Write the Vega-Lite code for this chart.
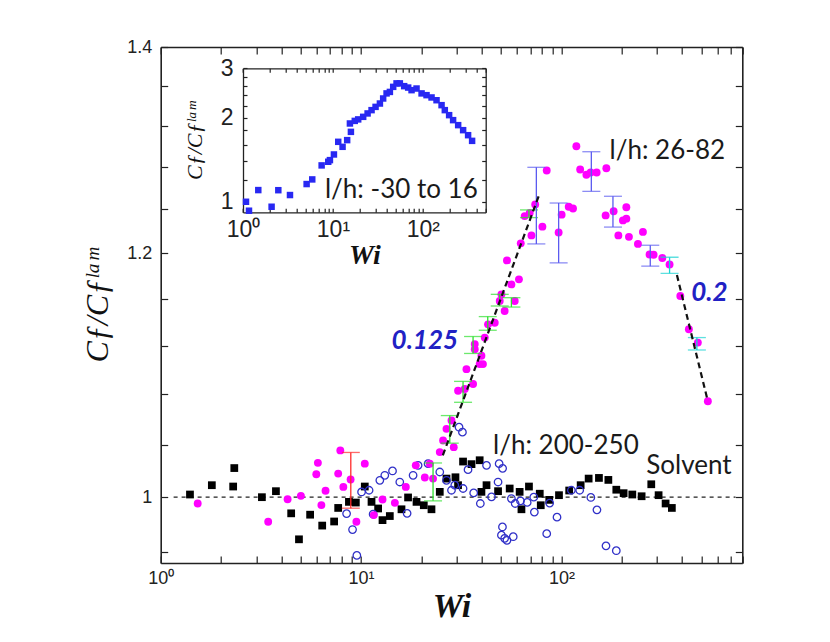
{
  "$schema": "https://vega.github.io/schema/vega-lite/v6.json",
  "width": 581.6,
  "height": 516,
  "autosize": "none",
  "padding": {"left": 160.7, "top": 47, "right": 87.7, "bottom": 79},
  "background": "white",
  "config": {
    "view": {"stroke": null},
    "axis": {
      "grid": false,
      "domainColor": "#222",
      "domainWidth": 1.6,
      "tickColor": "#222",
      "tickWidth": 1.2,
      "labelFont": "Liberation Sans",
      "labelColor": "#222",
      "titleColor": "#111",
      "labelFlush": false,
      "labelOverlap": false,
      "labelBound": false
    }
  },
  "datasets": {
    "solvent": [
      {"wi": 1.40, "cf": 1.002}, {"wi": 1.80, "cf": 1.009}, {"wi": 2.30, "cf": 1.008}, {"wi": 2.33, "cf": 1.022},
      {"wi": 3.20, "cf": 1.000}, {"wi": 3.76, "cf": 1.0045}, {"wi": 4.48, "cf": 0.988}, {"wi": 4.90, "cf": 0.969},
      {"wi": 5.57, "cf": 0.987}, {"wi": 6.40, "cf": 0.979}, {"wi": 7.34, "cf": 0.982}, {"wi": 7.69, "cf": 0.992},
      {"wi": 8.70, "cf": 0.9965}, {"wi": 9.42, "cf": 0.996}, {"wi": 10.44, "cf": 1.008}, {"wi": 11.28, "cf": 0.9965},
      {"wi": 12.17, "cf": 0.9916}, {"wi": 12.8, "cf": 0.983}, {"wi": 13.92, "cf": 0.986}, {"wi": 15.92, "cf": 0.991},
      {"wi": 17.17, "cf": 0.9998}, {"wi": 18.92, "cf": 0.9965}, {"wi": 20.57, "cf": 0.994}, {"wi": 22.47, "cf": 0.991},
      {"wi": 24.72, "cf": 1.004}, {"wi": 26.7, "cf": 1.014}, {"wi": 29.6, "cf": 1.015}, {"wi": 30.5, "cf": 1.009},
      {"wi": 32.3, "cf": 1.027}, {"wi": 35.6, "cf": 1.025}, {"wi": 39.1, "cf": 1.028}, {"wi": 39.9, "cf": 1.004},
      {"wi": 42.3, "cf": 1.009}, {"wi": 48.3, "cf": 1.0045}, {"wi": 55.2, "cf": 1.0065}, {"wi": 61.9, "cf": 1.004},
      {"wi": 63.2, "cf": 0.991}, {"wi": 68.9, "cf": 1.008}, {"wi": 78.0, "cf": 1.0026}, {"wi": 78.9, "cf": 0.994},
      {"wi": 87.0, "cf": 0.998}, {"wi": 97.3, "cf": 1.0015}, {"wi": 109.4, "cf": 1.005}, {"wi": 124.8, "cf": 1.009},
      {"wi": 136.8, "cf": 1.014}, {"wi": 154, "cf": 1.0145}, {"wi": 171.6, "cf": 1.013}, {"wi": 188, "cf": 1.0056},
      {"wi": 204.5, "cf": 1.003}, {"wi": 226, "cf": 1.002}, {"wi": 251.5, "cf": 1.0007}, {"wi": 281, "cf": 1.0097},
      {"wi": 305.7, "cf": 1.0015}, {"wi": 331.3, "cf": 0.9953}, {"wi": 356, "cf": 0.992}
    ],
    "lh26": [
      {"wi": 1.53, "cf": 0.9953}, {"wi": 3.44, "cf": 0.9818}, {"wi": 4.30, "cf": 0.9985}, {"wi": 5.01, "cf": 1.001},
      {"wi": 5.98, "cf": 1.0173}, {"wi": 6.09, "cf": 1.026}, {"wi": 6.34, "cf": 0.9941}, {"wi": 6.65, "cf": 1.0048},
      {"wi": 7.69, "cf": 1.0178}, {"wi": 7.88, "cf": 1.0356}, {"wi": 8.16, "cf": 1.0077}, {"wi": 8.87, "cf": 1.0133},
      {"wi": 9.48, "cf": 0.9818}, {"wi": 10.44, "cf": 1.0254}, {"wi": 11.58, "cf": 0.9867}, {"wi": 12.8, "cf": 0.9983},
      {"wi": 14.75, "cf": 0.9958}, {"wi": 16.73, "cf": 1.0077}, {"wi": 18.76, "cf": 1.0241}, {"wi": 20.81, "cf": 1.0148},
      {"wi": 22.03, "cf": 1.0254}, {"wi": 22.88, "cf": 1.014}, {"wi": 24.72, "cf": 1.0343}, {"wi": 25.68, "cf": 1.0433},
      {"wi": 26.7, "cf": 1.0524}, {"wi": 29.03, "cf": 1.0381}, {"wi": 28.28, "cf": 1.059}, {"wi": 30.5, "cf": 1.0828},
      {"wi": 32.94, "cf": 1.0842}, {"wi": 36.24, "cf": 1.0883}, {"wi": 33.59, "cf": 1.1004}, {"wi": 39.1, "cf": 1.1046},
      {"wi": 40.6, "cf": 1.1046}, {"wi": 39.9, "cf": 1.1115}, {"wi": 36.95, "cf": 1.117}, {"wi": 36.95, "cf": 1.1212},
      {"wi": 41.45, "cf": 1.1267}, {"wi": 43.05, "cf": 1.1379}, {"wi": 46.48, "cf": 1.1393}, {"wi": 52.1, "cf": 1.1493},
      {"wi": 49.24, "cf": 1.1579}, {"wi": 50.2, "cf": 1.1637}, {"wi": 58.5, "cf": 1.1579}, {"wi": 56.3, "cf": 1.1724},
      {"wi": 61.4, "cf": 1.1768}, {"wi": 53.5, "cf": 1.1936}, {"wi": 62.7, "cf": 1.2089}, {"wi": 70.9, "cf": 1.2161},
      {"wi": 80.4, "cf": 1.2241}, {"wi": 65.6, "cf": 1.2338}, {"wi": 69.5, "cf": 1.2368}, {"wi": 74.0, "cf": 1.2446},
      {"wi": 84.5, "cf": 1.2766}, {"wi": 118.8, "cf": 1.2999}, {"wi": 96.9, "cf": 1.2188}, {"wi": 100.3, "cf": 1.2351},
      {"wi": 108.8, "cf": 1.2424}, {"wi": 114.3, "cf": 1.2408}, {"wi": 124.1, "cf": 1.2775}, {"wi": 133.3, "cf": 1.2725},
      {"wi": 140, "cf": 1.2747}, {"wi": 150, "cf": 1.2746}, {"wi": 167.7, "cf": 1.2787}, {"wi": 166.3, "cf": 1.2344},
      {"wi": 182.3, "cf": 1.2383}, {"wi": 211, "cf": 1.242}, {"wi": 202.9, "cf": 1.2298}, {"wi": 211, "cf": 1.2314},
      {"wi": 192.5, "cf": 1.2161}, {"wi": 217.4, "cf": 1.2148}, {"wi": 255.3, "cf": 1.2193}, {"wi": 241.1, "cf": 1.2084},
      {"wi": 275.6, "cf": 1.1989}, {"wi": 288.6, "cf": 1.1987}, {"wi": 319, "cf": 1.1958}, {"wi": 346.8, "cf": 1.19},
      {"wi": 392.3, "cf": 1.1623}, {"wi": 432.9, "cf": 1.1337}, {"wi": 480, "cf": 1.1225}, {"wi": 538.5, "cf": 1.0743}
    ],
    "lh200": [
      {"wi": 8.47, "cf": 0.9878}, {"wi": 9.07, "cf": 0.9761}, {"wi": 9.53, "cf": 0.9574}, {"wi": 10.06, "cf": 1.0039},
      {"wi": 10.97, "cf": 1.0052}, {"wi": 11.49, "cf": 0.9874}, {"wi": 12.41, "cf": 1.0127}, {"wi": 13.14, "cf": 1.0165},
      {"wi": 14.36, "cf": 1.0198}, {"wi": 15.61, "cf": 1.0114}, {"wi": 16.98, "cf": 0.988}, {"wi": 18.19, "cf": 1.0165},
      {"wi": 19.27, "cf": 1.0241}, {"wi": 21.61, "cf": 1.0254}, {"wi": 24.72, "cf": 1.019}, {"wi": 26.7, "cf": 1.0127},
      {"wi": 28.28, "cf": 1.0052}, {"wi": 29.37, "cf": 1.009}, {"wi": 30.85, "cf": 1.0537}, {"wi": 32.07, "cf": 1.0498},
      {"wi": 32.3, "cf": 1.0065}, {"wi": 34.2, "cf": 1.0208}, {"wi": 36.5, "cf": 1.0032}, {"wi": 39.4, "cf": 0.9953},
      {"wi": 42.3, "cf": 1.0241}, {"wi": 44.8, "cf": 1.0002}, {"wi": 48.9, "cf": 1.0254}, {"wi": 48.3, "cf": 1.0114},
      {"wi": 50.9, "cf": 1.0218}, {"wi": 50.8, "cf": 0.978}, {"wi": 50.2, "cf": 0.972}, {"wi": 52.1, "cf": 0.9697},
      {"wi": 53.5, "cf": 0.9683}, {"wi": 57.5, "cf": 0.9709}, {"wi": 56.3, "cf": 0.999}, {"wi": 58.8, "cf": 0.9953},
      {"wi": 62.5, "cf": 0.9972}, {"wi": 67.5, "cf": 0.9961}, {"wi": 72.8, "cf": 1.0}, {"wi": 73.3, "cf": 0.9889},
      {"wi": 87.4, "cf": 0.9956}, {"wi": 95.1, "cf": 0.9852}, {"wi": 84.5, "cf": 0.9731}, {"wi": 112.2, "cf": 1.0052},
      {"wi": 123.4, "cf": 1.0052}, {"wi": 140.3, "cf": 0.9998}, {"wi": 150.5, "cf": 0.9906}, {"wi": 167, "cf": 0.9643},
      {"wi": 188, "cf": 0.9608}
    ],
    "errbars": [
      {"wi": 8.89, "lo": 0.9918, "hi": 1.034, "c": "red"},
      {"wi": 22.88, "lo": 0.99725, "hi": 1.0259, "c": "green"},
      {"wi": 27.73, "lo": 1.0412, "hi": 1.0629, "c": "green"},
      {"wi": 32.3, "lo": 1.0735, "hi": 1.0904, "c": "green"},
      {"wi": 36.24, "lo": 1.1134, "hi": 1.1276, "c": "green"},
      {"wi": 42.9, "lo": 1.1329, "hi": 1.1445, "c": "green"},
      {"wi": 49.24, "lo": 1.1536, "hi": 1.1637, "c": "green"},
      {"wi": 56.3, "lo": 1.1527, "hi": 1.1608, "c": "green"},
      {"wi": 68.9, "lo": 1.2324, "hi": 1.2395, "c": "green"},
      {"wi": 75.0, "lo": 1.2084, "hi": 1.2796, "c": "blue"},
      {"wi": 96.9, "lo": 1.1914, "hi": 1.2459, "c": "blue"},
      {"wi": 141.1, "lo": 1.2568, "hi": 1.2946, "c": "blue"},
      {"wi": 180.9, "lo": 1.2237, "hi": 1.2522, "c": "blue"},
      {"wi": 277.8, "lo": 1.1885, "hi": 1.2072, "c": "blue"},
      {"wi": 346.8, "lo": 1.1821, "hi": 1.1964, "c": "cyan"},
      {"wi": 474.6, "lo": 1.1163, "hi": 1.1267, "c": "cyan"}
    ],
    "baseline": [{"wi": 1.16, "wi2": 740, "cf": 1}],
    "fits": [
      {"wi": 25.6, "cf": 1.0318, "wi2": 78.0, "cf2": 1.255},
      {"wi": 377.4, "cf": 1.1806, "wi2": 538.5, "cf2": 1.0743}
    ],
    "notes": [
      {"wi": 174, "cf": 1.288, "t": "l/h: 26-82", "kind": "black"},
      {"wi": 45.6, "cf": 1.0331, "t": "l/h: 200-250", "kind": "black"},
      {"wi": 265.5, "cf": 1.0178, "t": "Solvent", "kind": "black"},
      {"wi": 30.5, "cf": 1.117, "t": "0.125", "kind": "blueright"},
      {"wi": 444.9, "cf": 1.158, "t": "0.2", "kind": "blueleft"}
    ],
    "inset": [
      {"wi": 1.08, "cf": 1.0}, {"wi": 1.166, "cf": 0.929}, {"wi": 1.479, "cf": 1.101}, {"wi": 2.08, "cf": 0.96},
      {"wi": 2.47, "cf": 1.10}, {"wi": 3.33, "cf": 1.057}, {"wi": 5.10, "cf": 1.157}, {"wi": 5.89, "cf": 1.202},
      {"wi": 7.49, "cf": 1.349}, {"wi": 8.87, "cf": 1.39}, {"wi": 9.26, "cf": 1.409}, {"wi": 10.26, "cf": 1.476},
      {"wi": 11.45, "cf": 1.638}, {"wi": 12.8, "cf": 1.572}, {"wi": 14.4, "cf": 1.661}, {"wi": 15.85, "cf": 1.778},
      {"wi": 15.45, "cf": 1.905}, {"wi": 17.5, "cf": 1.946}, {"wi": 19.1, "cf": 1.97}, {"wi": 21.7, "cf": 2.012},
      {"wi": 24.3, "cf": 2.069}, {"wi": 26.9, "cf": 2.126}, {"wi": 29.8, "cf": 2.184}, {"wi": 33.3, "cf": 2.245},
      {"wi": 36.2, "cf": 2.34}, {"wi": 39.5, "cf": 2.44}, {"wi": 43.0, "cf": 2.47}, {"wi": 46.8, "cf": 2.575},
      {"wi": 51.0, "cf": 2.65}, {"wi": 55.5, "cf": 2.65}, {"wi": 62.0, "cf": 2.59}, {"wi": 68.7, "cf": 2.56},
      {"wi": 74.9, "cf": 2.506}, {"wi": 85.1, "cf": 2.54}, {"wi": 96.8, "cf": 2.44}, {"wi": 109.9, "cf": 2.405},
      {"wi": 125, "cf": 2.36}, {"wi": 142, "cf": 2.307}, {"wi": 161.5, "cf": 2.215}, {"wi": 175.5, "cf": 2.126},
      {"wi": 196, "cf": 2.04}, {"wi": 217, "cf": 1.958}, {"wi": 247, "cf": 1.879}, {"wi": 280.5, "cf": 1.803},
      {"wi": 318.6, "cf": 1.73}, {"wi": 353, "cf": 1.651}
    ],
    "insetnote": [{"wi": 8.15, "cf": 1.028, "t": "l/h: -30 to 16"}]
  },
  "layer": [
    {
      "resolve": {"axis": {"x": "independent", "y": "independent"}},
      "layer": [
        {
          "data": {"name": "baseline"},
          "mark": {"type": "rule", "strokeDash": [4, 4], "strokeWidth": 1.2, "color": "#222"},
          "encoding": {
            "x": {"field": "wi", "type": "quantitative", "scale": {"type": "log", "domain": [1, 800], "nice": false}, "axis": null},
            "x2": {"field": "wi2"},
            "y": {"field": "cf", "type": "quantitative", "scale": {"type": "log", "domain": [0.952, 1.4], "nice": false, "zero": false}, "axis": null}
          }
        },
        {
          "data": {"name": "solvent"},
          "mark": {"type": "square", "filled": true, "color": "#000000", "size": 60, "opacity": 1},
          "encoding": {
            "x": {"field": "wi", "type": "quantitative", "scale": {"type": "log", "domain": [1, 800], "nice": false},
              "axis": {"orient": "top", "values": [1, 2, 3, 4, 5, 6, 7, 8, 9, 10, 20, 30, 40, 50, 60, 70, 80, 90, 100, 200, 300, 400, 500, 600, 700, 800], "labels": false, "title": null, "tickSize": -7}},
            "y": {"field": "cf", "type": "quantitative", "scale": {"type": "log", "domain": [0.952, 1.4], "nice": false, "zero": false},
              "axis": {"orient": "right", "values": [0.96, 1, 1.04, 1.08, 1.12, 1.16, 1.2, 1.24, 1.28, 1.32, 1.36, 1.4], "labels": false, "title": null, "tickSize": -7}}
          }
        },
        {
          "data": {"name": "lh200"},
          "mark": {"type": "point", "shape": "circle", "filled": false, "color": "#3030c8", "size": 56, "strokeWidth": 1.3, "opacity": 1},
          "encoding": {
            "x": {"field": "wi", "type": "quantitative", "scale": {"type": "log", "domain": [1, 800], "nice": false}, "axis": null},
            "y": {"field": "cf", "type": "quantitative", "scale": {"type": "log", "domain": [0.952, 1.4], "nice": false, "zero": false}, "axis": null}
          }
        },
        {
          "data": {"name": "lh26"},
          "mark": {"type": "circle", "color": "#ff00ff", "size": 62, "opacity": 1},
          "encoding": {
            "x": {"field": "wi", "type": "quantitative", "scale": {"type": "log", "domain": [1, 800], "nice": false},
              "axis": {"orient": "bottom", "values": [1, 2, 3, 4, 5, 6, 7, 8, 9, 10, 20, 30, 40, 50, 60, 70, 80, 90, 100, 200, 300, 400, 500, 600, 700, 800],
                "labelExpr": "datum.value == 1 ? '10⁰' : datum.value == 10 ? '10¹' : datum.value == 100 ? '10²' : ''",
                "tickSize": -7, "labelPadding": 13, "labelFontSize": 18,
                "title": "Wi", "titleFont": "Liberation Serif", "titleFontSize": 34, "titleFontStyle": "italic", "titleFontWeight": "bold", "titlePadding": 2}},
            "y": {"field": "cf", "type": "quantitative", "scale": {"type": "log", "domain": [0.952, 1.4], "nice": false, "zero": false},
              "axis": {"orient": "left", "values": [0.96, 1, 1.04, 1.08, 1.12, 1.16, 1.2, 1.24, 1.28, 1.32, 1.36, 1.4],
                "labelExpr": "datum.value == 1 ? '1' : datum.value == 1.2 ? '1.2' : datum.value == 1.4 ? '1.4' : ''",
                "tickSize": -7, "labelPadding": 16, "labelFontSize": 18,
                "title": "Cƒ/Cƒˡᵃᵐ", "titleFont": "Liberation Serif", "titleFontSize": 32, "titleFontStyle": "italic", "titleFontWeight": "normal", "titlePadding": 12}}
          }
        },
        {
          "data": {"name": "errbars"},
          "mark": {"type": "errorbar", "thickness": 1.3, "ticks": {"size": 18, "thickness": 1.3}},
          "encoding": {
            "x": {"field": "wi", "type": "quantitative", "scale": {"type": "log", "domain": [1, 800], "nice": false}, "axis": null},
            "y": {"field": "lo", "type": "quantitative", "scale": {"type": "log", "domain": [0.952, 1.4], "nice": false, "zero": false}, "axis": null},
            "y2": {"field": "hi"},
            "color": {"field": "c", "type": "nominal", "scale": {"domain": ["red", "green", "blue", "cyan"], "range": ["#ff2a2a", "#2ee02e", "#5b5bf0", "#19d3d3"]}, "legend": null}
          }
        },
        {
          "data": {"name": "fits"},
          "mark": {"type": "rule", "strokeDash": [6, 4], "strokeWidth": 2.2, "color": "#111"},
          "encoding": {
            "x": {"field": "wi", "type": "quantitative", "scale": {"type": "log", "domain": [1, 800], "nice": false}, "axis": null},
            "x2": {"field": "wi2"},
            "y": {"field": "cf", "type": "quantitative", "scale": {"type": "log", "domain": [0.952, 1.4], "nice": false, "zero": false}, "axis": null},
            "y2": {"field": "cf2"}
          }
        },
        {
          "data": {"name": "notes"},
          "transform": [{"filter": "datum.kind == 'black'"}],
          "mark": {"type": "text", "font": "Lato", "fontSize": 26, "align": "left", "baseline": "alphabetic", "color": "#1a1a1a"},
          "encoding": {
            "x": {"field": "wi", "type": "quantitative", "scale": {"type": "log", "domain": [1, 800], "nice": false}, "axis": null},
            "y": {"field": "cf", "type": "quantitative", "scale": {"type": "log", "domain": [0.952, 1.4], "nice": false, "zero": false}, "axis": null},
            "text": {"field": "t"}
          }
        },
        {
          "data": {"name": "notes"},
          "transform": [{"filter": "datum.kind == 'blueright'"}],
          "mark": {"type": "text", "font": "Lato", "fontSize": 26, "fontStyle": "italic", "fontWeight": "bold", "align": "right", "baseline": "alphabetic", "color": "#2121c4"},
          "encoding": {
            "x": {"field": "wi", "type": "quantitative", "scale": {"type": "log", "domain": [1, 800], "nice": false}, "axis": null},
            "y": {"field": "cf", "type": "quantitative", "scale": {"type": "log", "domain": [0.952, 1.4], "nice": false, "zero": false}, "axis": null},
            "text": {"field": "t"}
          }
        },
        {
          "data": {"name": "notes"},
          "transform": [{"filter": "datum.kind == 'blueleft'"}],
          "mark": {"type": "text", "font": "Lato", "fontSize": 26, "fontStyle": "italic", "fontWeight": "bold", "align": "left", "baseline": "alphabetic", "color": "#2121c4"},
          "encoding": {
            "x": {"field": "wi", "type": "quantitative", "scale": {"type": "log", "domain": [1, 800], "nice": false}, "axis": null},
            "y": {"field": "cf", "type": "quantitative", "scale": {"type": "log", "domain": [0.952, 1.4], "nice": false, "zero": false}, "axis": null},
            "text": {"field": "t"}
          }
        }
      ]
    },
    {
      "resolve": {"axis": {"x": "independent", "y": "independent"}},
      "layer": [
        {
          "data": {"name": "inset"},
          "mark": {"type": "square", "filled": true, "color": "#2828f2", "size": 42, "opacity": 1},
          "encoding": {
            "x": {"field": "wi", "type": "quantitative", "scale": {"type": "log", "domain": [1, 500], "range": [82.3, 325], "nice": false},
              "axis": {"orient": "bottom", "offset": -350.7, "values": [1, 2, 3, 4, 5, 6, 7, 8, 9, 10, 20, 30, 40, 50, 60, 70, 80, 90, 100, 200, 300, 400, 500],
                "labelExpr": "datum.value == 1 ? '10⁰' : datum.value == 10 ? '10¹' : datum.value == 100 ? '10²' : ''",
                "tickSize": -4, "labelPadding": 10, "labelFontSize": 23, "domainWidth": 1.3,
                "title": "Wi", "titleFont": "Liberation Serif", "titleFontSize": 28, "titleFontStyle": "italic", "titleFontWeight": "bold", "titlePadding": 0}},
            "y": {"field": "cf", "type": "quantitative", "scale": {"type": "log", "domain": [0.917, 3], "range": [165.3, 21.3], "nice": false, "zero": false},
              "axis": {"orient": "left", "offset": -82.3, "values": [1, 1.2, 1.4, 1.6, 1.8, 2, 2.2, 2.4, 2.6, 2.8, 3],
                "labelExpr": "datum.value == 1 ? '1' : datum.value == 2 ? '2' : datum.value == 3 ? '3' : ''",
                "tickSize": -4, "labelPadding": 14, "labelFontSize": 23, "domainWidth": 1.3,
                "title": "Cƒ/Cƒˡᵃᵐ", "titleFont": "Liberation Serif", "titleFontSize": 22, "titleFontStyle": "italic", "titleFontWeight": "normal", "titlePadding": 14}}
          }
        },
        {
          "data": {"name": "inset"},
          "mark": {"type": "square", "size": 1, "opacity": 0},
          "encoding": {
            "x": {"field": "wi", "type": "quantitative", "scale": {"type": "log", "domain": [1, 500], "range": [82.3, 325], "nice": false},
              "axis": {"orient": "top", "offset": -21.3, "values": [1, 2, 3, 4, 5, 6, 7, 8, 9, 10, 20, 30, 40, 50, 60, 70, 80, 90, 100, 200, 300, 400, 500],
                "labels": false, "title": null, "tickSize": -4, "domainWidth": 1.3}},
            "y": {"field": "cf", "type": "quantitative", "scale": {"type": "log", "domain": [0.917, 3], "range": [165.3, 21.3], "nice": false, "zero": false},
              "axis": {"orient": "right", "offset": -256.6, "values": [1, 1.2, 1.4, 1.6, 1.8, 2, 2.2, 2.4, 2.6, 2.8, 3],
                "labels": false, "title": null, "tickSize": -4, "domainWidth": 1.3}}
          }
        },
        {
          "data": {"name": "insetnote"},
          "mark": {"type": "text", "font": "Lato", "fontSize": 26, "align": "left", "baseline": "alphabetic", "color": "#1a1a1a"},
          "encoding": {
            "x": {"field": "wi", "type": "quantitative", "scale": {"type": "log", "domain": [1, 500], "range": [82.3, 325], "nice": false}, "axis": null},
            "y": {"field": "cf", "type": "quantitative", "scale": {"type": "log", "domain": [0.917, 3], "range": [165.3, 21.3], "nice": false, "zero": false}, "axis": null},
            "text": {"field": "t"}
          }
        }
      ]
    }
  ],
  "resolve": {"scale": {"x": "independent", "y": "independent"}, "axis": {"x": "independent", "y": "independent"}}
}
